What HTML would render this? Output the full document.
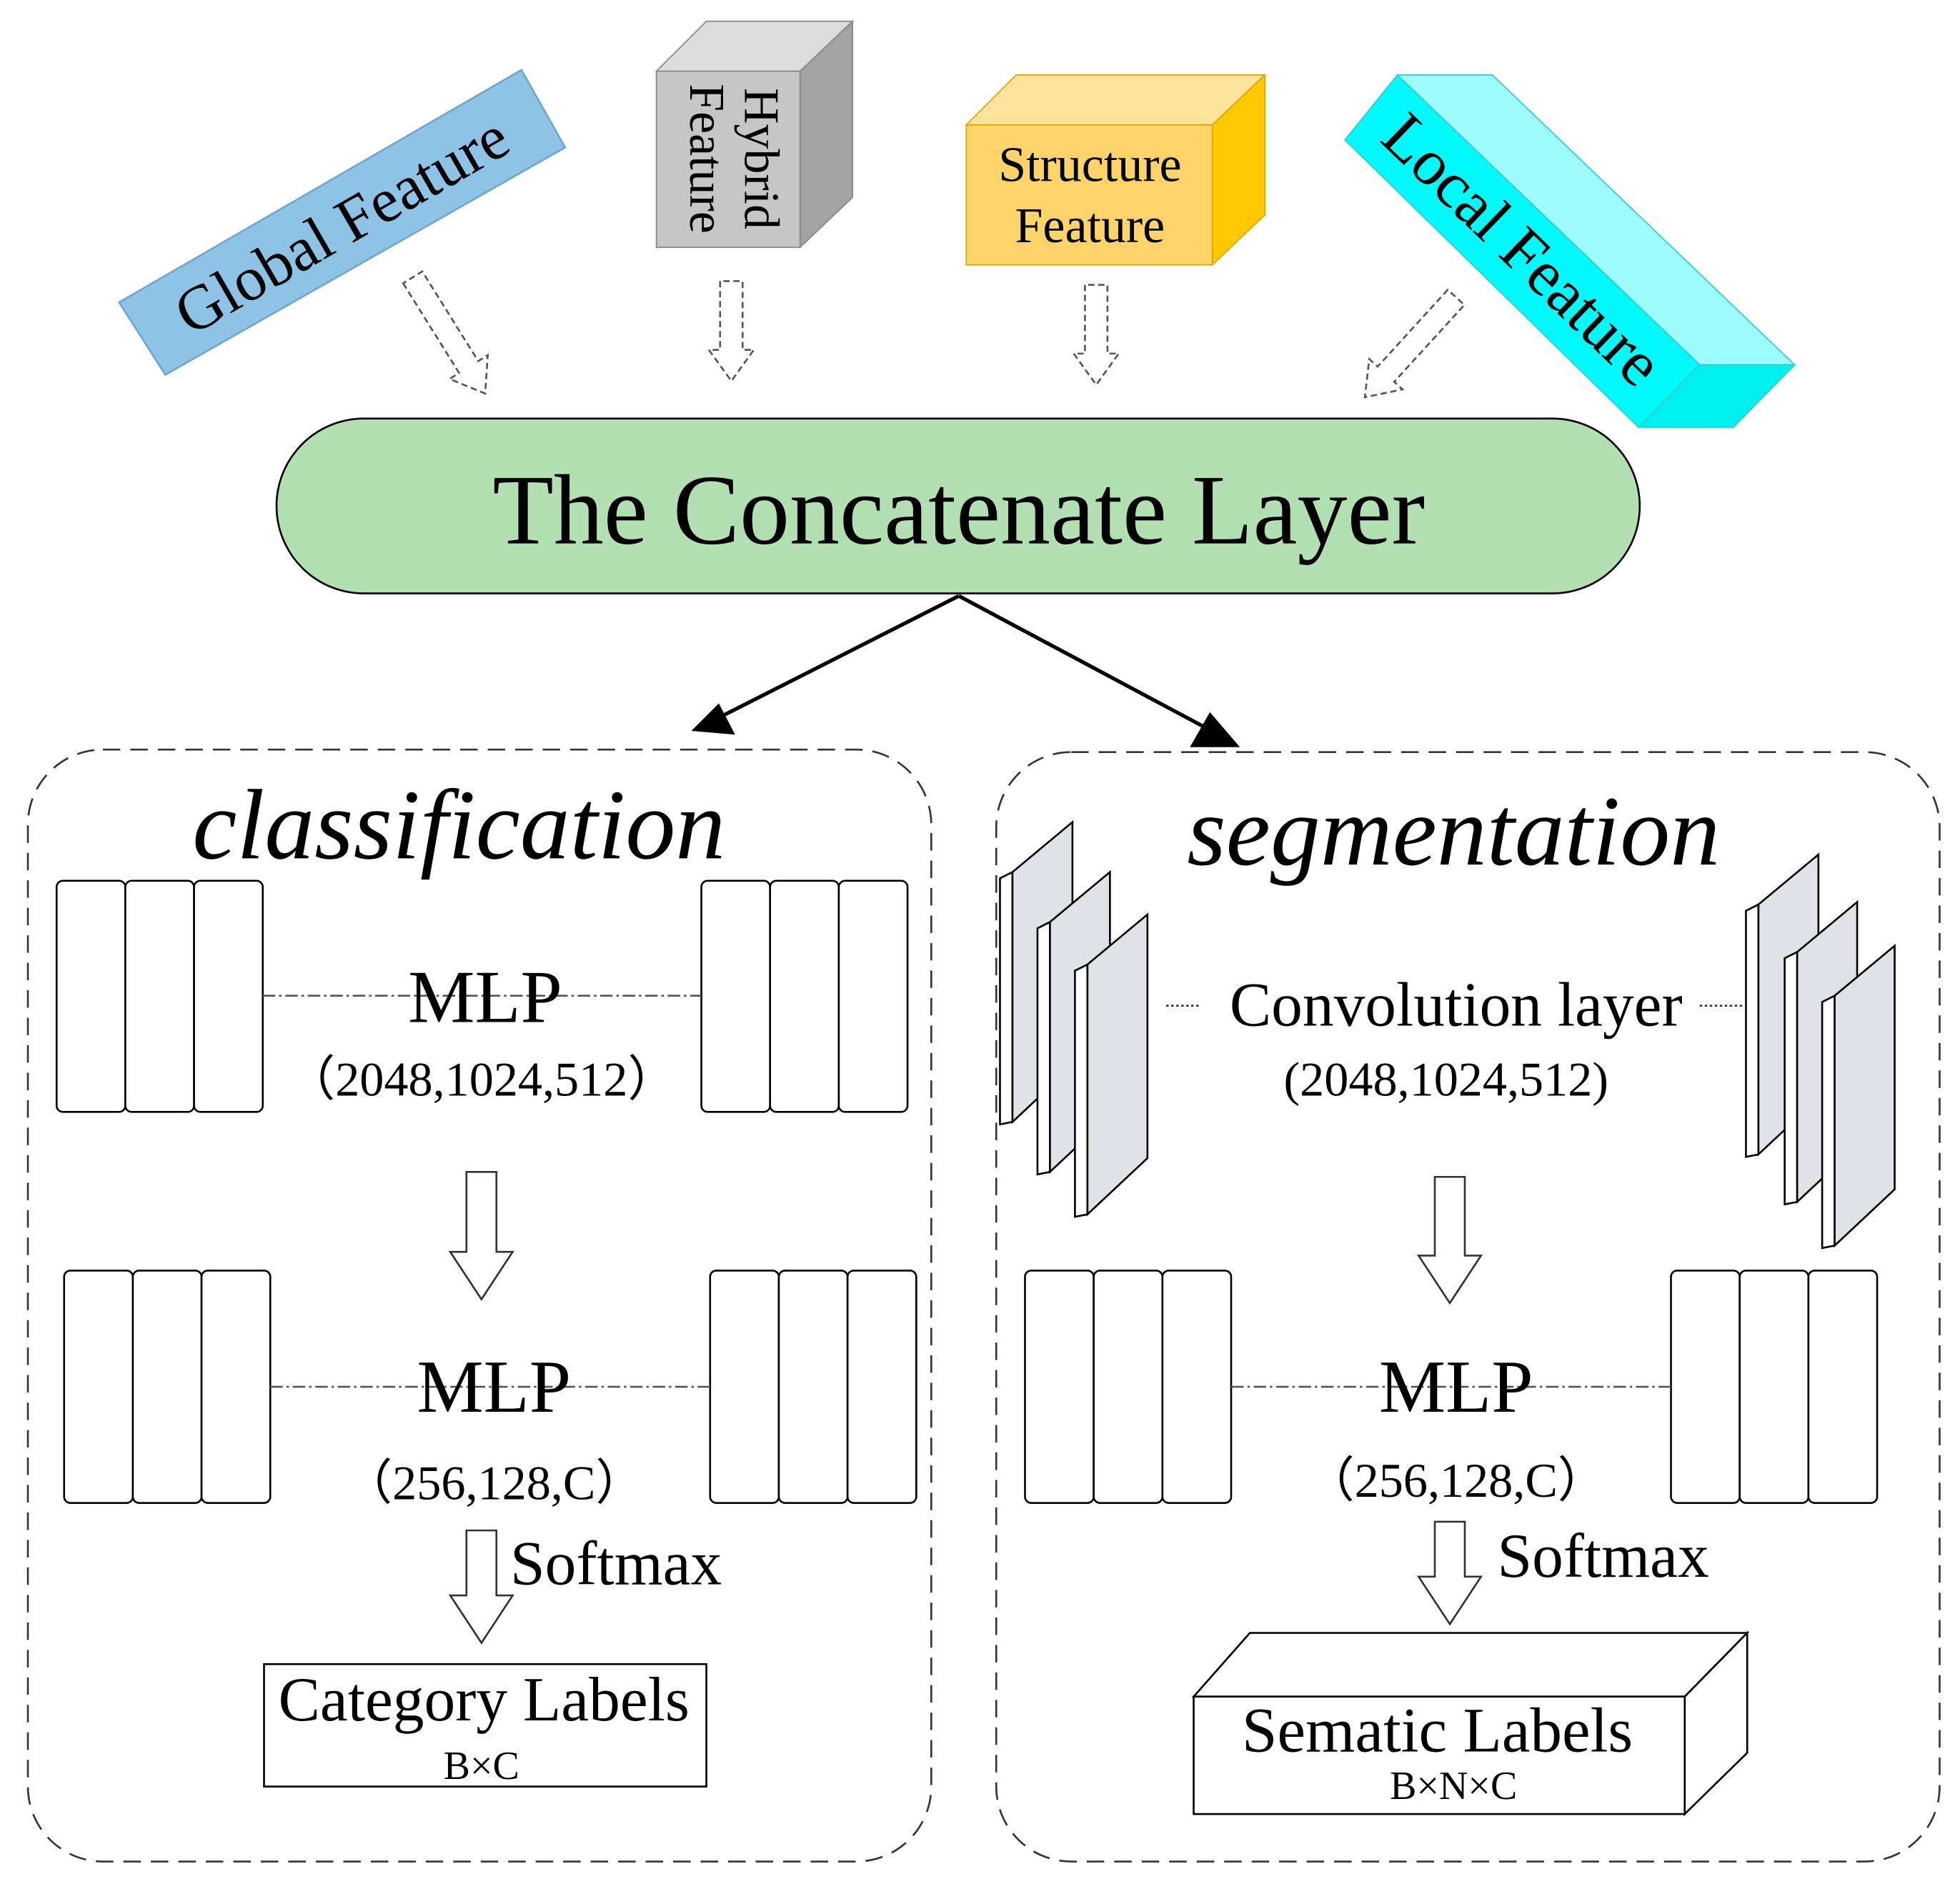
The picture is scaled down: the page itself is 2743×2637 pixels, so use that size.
<!DOCTYPE html>
<html><head><meta charset="utf-8"><style>html,body{margin:0;padding:0;background:#fff}svg{display:block}</style></head>
<body>
<svg id="s" width="2743" height="2637" viewBox="0 0 1568 1508" xmlns="http://www.w3.org/2000/svg" font-family="'Liberation Serif',serif">
<!-- Global feature -->
<polygon points="95,242 417,56 452,118 132,300" fill="#8fc3e6" stroke="#6fa6cc" stroke-width="1.5"/>
<text x="273" y="197" font-size="50" text-anchor="middle" transform="rotate(-30 273 180)">Global Feature</text>
<!-- Hybrid cube -->
<polygon points="525,57 565,17 682,17 640,57" fill="#dcdcdc" stroke="#888"/>
<polygon points="640,57 682,17 682,158 640,198" fill="#a3a3a3" stroke="#888"/>
<rect x="525" y="57" width="115" height="141" fill="#c6c6c6" stroke="#888"/>
<text x="0" y="0" font-size="40" text-anchor="middle" transform="translate(596,127) rotate(90)">Hybrid</text>
<text x="0" y="0" font-size="40" text-anchor="middle" transform="translate(552,127) rotate(90)">Feature</text>
<!-- Structure cube -->
<polygon points="773,100 813,60 1012,60 970,100" fill="#fde49a" stroke="#d9a800"/>
<polygon points="970,100 1012,60 1012,172 970,212" fill="#ffc800" stroke="#d9a800"/>
<rect x="773" y="100" width="197" height="112" fill="#fdd36a" stroke="#d9a800"/>
<text x="872" y="145" font-size="40" text-anchor="middle">Structure</text>
<text x="872" y="194" font-size="40" text-anchor="middle">Feature</text>
<!-- Local feature -->
<polygon points="1118,60 1194,60 1436,292 1360,292" fill="#9ffcfc" stroke="#33cccc"/>
<polygon points="1076,112 1118,60 1360,292 1311,342" fill="#00fafa" stroke="#33cccc"/>
<polygon points="1360,292 1436,292 1387,342 1311,342" fill="#00f0f0" stroke="#33cccc"/>
<text x="1218" y="217" font-size="52" text-anchor="middle" transform="rotate(44 1218 200)">Local Feature</text>
<g id="arrows"></g>
<!-- Concatenate -->
<rect x="221" y="335" width="1091" height="140" rx="70" fill="#b3e0b3" stroke="#000" stroke-width="1.5"/>
<text x="767" y="435" font-size="80" text-anchor="middle">The Concatenate Layer</text>
<line x1="767" y1="477" x2="570" y2="577" stroke="#000" stroke-width="3"/>
<polygon points="553,585 575,563 588,588" fill="#000"/>
<line x1="767" y1="477" x2="975" y2="588" stroke="#000" stroke-width="3"/>
<polygon points="992,598 952,598 968,570" fill="#000"/>
<!-- dashed boxes -->
<rect x="22" y="600" width="723" height="890" rx="60" fill="none" stroke="#333" stroke-width="1.5" stroke-dasharray="14,8"/>
<rect x="797" y="602" width="755" height="888" rx="60" fill="none" stroke="#333" stroke-width="1.5" stroke-dasharray="14,8"/>
<text x="367" y="687" font-size="80" font-style="italic" text-anchor="middle">classification</text>
<text x="1163" y="692" font-size="80" font-style="italic" text-anchor="middle">segmentation</text>
<g id="blocks" fill="#fff" stroke="#000" stroke-width="1.5"></g>
<g stroke="#555" stroke-width="1.5" stroke-dasharray="10,3,2,3">
<line x1="210" y1="797" x2="561" y2="797"/><line x1="216" y1="1110" x2="568" y2="1110"/><line x1="985" y1="1110" x2="1337" y2="1110"/>
</g>
<g stroke="#333" stroke-width="1.5" stroke-dasharray="2,2"><line x1="933" y1="805" x2="960" y2="805"/><line x1="1360" y1="805" x2="1395" y2="805"/></g>
<g font-size="60" text-anchor="middle">
<text x="388" y="818">MLP</text>
<text x="395" y="1130">MLP</text><text x="1165" y="1130">MLP</text></g>
<g font-size="39" text-anchor="middle">
<text x="385" y="877">（2048,1024,512）</text>
<text x="1157" y="877">(2048,1024,512)</text>
<text x="395" y="1200">（256,128,C）</text>
<text x="1165" y="1198">（256,128,C）</text></g>
<text x="1165" y="821" font-size="50" text-anchor="middle">Convolution layer</text>
<text x="408" y="1268" font-size="50">Softmax</text>
<text x="1198" y="1262" font-size="50">Softmax</text>
<rect x="211" y="1332" width="354" height="98" fill="#fff" stroke="#000" stroke-width="1.5"/>
<text x="387" y="1377" font-size="50" text-anchor="middle">Category Labels</text>
<text x="385" y="1424" font-size="32" text-anchor="middle">B×C</text>
<polygon points="955,1358 1000,1307 1398,1307 1348,1358" fill="#fff" stroke="#000" stroke-width="1.5"/>
<polygon points="1348,1358 1398,1307 1398,1403 1348,1452" fill="#fff" stroke="#000" stroke-width="1.5"/>
<rect x="955" y="1358" width="393" height="94" fill="#fff" stroke="#000" stroke-width="1.5"/>
<text x="1150" y="1402" font-size="51" text-anchor="middle">Sematic Labels</text>
<text x="1163" y="1440" font-size="32" text-anchor="middle">B×N×C</text>
</svg>
<script>
var NS="http://www.w3.org/2000/svg";
function el(p,t,a){var e=document.createElementNS(NS,t);for(var k in a)e.setAttribute(k,a[k]);p.appendChild(e);return e;}
var A=document.getElementById("arrows");
function harrow(x1,y1,x2,y2,sw,hw,hl,dash){
 var dx=x2-x1,dy=y2-y1,L=Math.hypot(dx,dy),ux=dx/L,uy=dy/L,px=-uy,py=ux;
 var bx=x2-ux*hl,by=y2-uy*hl;
 var pts=[[x1+px*sw,y1+py*sw],[bx+px*sw,by+py*sw],[bx+px*hw,by+py*hw],[x2,y2],[bx-px*hw,by-py*hw],[bx-px*sw,by-py*sw],[x1-px*sw,y1-py*sw]];
 var a={points:pts.map(function(p){return p.join(",")}).join(" "),fill:"#fff",stroke:dash?"#555":"#333","stroke-width":1.5};
 if(dash)a["stroke-dasharray"]="5,3";
 el(A,"polygon",a);
}
harrow(330,222,388,315,9,18,25,1);
harrow(585,225,585,305,9,18,25,1);
harrow(877,228,877,308,9,18,25,1);
harrow(1165,238,1092,318,9,18,25,1);
harrow(385,938,385,1040,12,25,38,0);
harrow(1160,942,1160,1043,12,25,38,0);
harrow(385,1225,385,1315,12,25,38,0);
harrow(1160,1218,1160,1300,12,25,38,0);
var B=document.getElementById("blocks");
function grp(x,y,h){for(var i=0;i<3;i++)el(B,"rect",{x:x+i*55,y:y,width:55,height:h,rx:5});}
grp(45,705,185);grp(561,705,185);grp(51,1017,186);grp(568,1017,186);grp(820,1017,186);grp(1337,1017,186);
function plate(x,y){
 el(B,"polygon",{points:[x,y+45,x+10,y+40,x+10,y+240,x,y+242].join(","),fill:"#fff"});
 el(B,"polygon",{points:[x+10,y+40,x+58,y,x+58,y+195,x+10,y+240].join(","),fill:"#e0e2e6"});
}
plate(800,658);plate(830,698);plate(860,732);plate(1397,684);plate(1428,722);plate(1458,757);
</script>
</body></html>
